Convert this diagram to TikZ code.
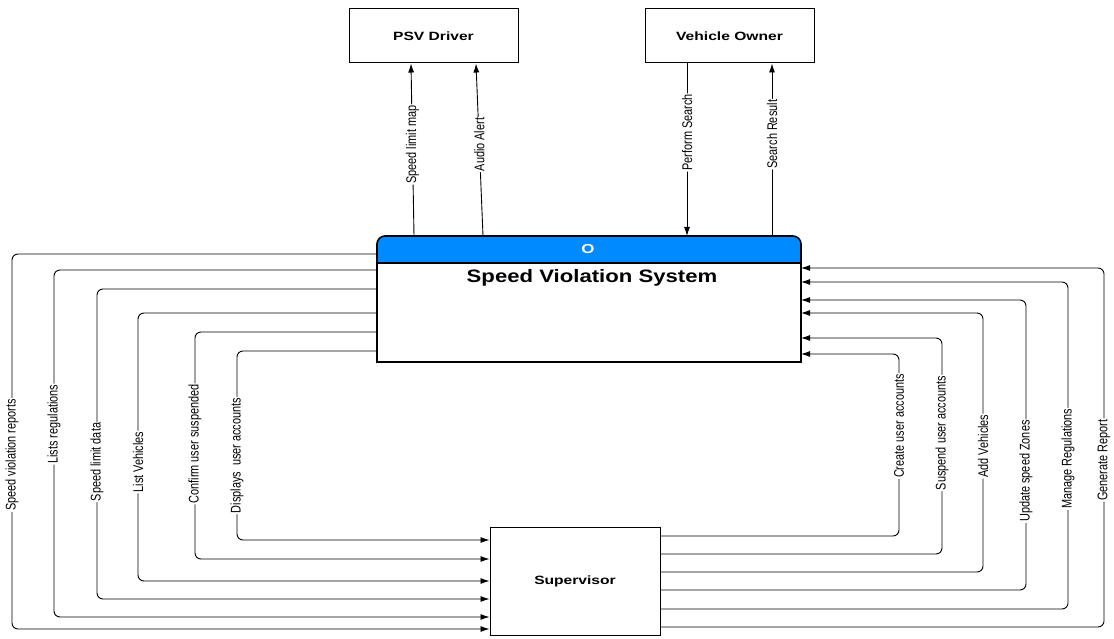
\documentclass[tikz,border=0pt]{standalone}
\usepackage{fontspec}
\setmainfont{Liberation Sans}
\newfontfamily\widefont[FakeStretch=1.3]{Liberation Sans}
\newfontfamily\titlefont[FakeStretch=1.23]{Liberation Sans}
\newfontfamily\narrowfont[FakeStretch=0.78]{Liberation Sans}
\usetikzlibrary{arrows.meta}
\definecolor{sysblue}{RGB}{0,138,255}
\begin{document}
\begin{tikzpicture}[x=1pt,y=-1pt,
  box/.style={draw, line width=1pt, rectangle, minimum width=169pt, minimum height=54pt, font=\widefont\bfseries\fontsize{12}{14}\selectfont},
  flow/.style={line width=0.9pt, -{Latex[length=9pt,width=6pt]}, rounded corners=6pt},
  lab/.style={fill=white, inner sep=1pt, rotate=90, font=\narrowfont\fontsize{14}{16}\selectfont},
]
\useasboundingbox (0,0) rectangle (1114,639);
\fill[white] (0,0) rectangle (1114,639);

% nodes
\node[box] (psv) at (433.5,36) {PSV Driver};
\node[box] (owner) at (729.5,36) {Vehicle Owner};
\node[box, minimum width=170pt, minimum height=108pt] (sup) at (575,581) {Supervisor};
\node[minimum width=424pt, minimum height=126pt, inner sep=0pt, outer sep=0pt] (sys) at (589,299) {};

% system box drawing
\fill[sysblue] (377,263) -- (377,244) arc[start angle=180,end angle=270,radius=8] -- (793,236) arc[start angle=270,end angle=360,radius=8] -- (801,263) -- cycle;
\draw[line width=1.6pt] (377,362) -- (377,244) arc[start angle=180,end angle=270,radius=8] -- (793,236) arc[start angle=270,end angle=360,radius=8] -- (801,362) -- cycle;
\draw[line width=1.6pt] (377,263) -- (801,263);
\node[text=white, font=\widefont\bfseries\fontsize{13}{15}\selectfont] (hdr) at (588,249) {O};
\node[font=\titlefont\bfseries\fontsize{18}{21}\selectfont] (title) at (592,278) {Speed Violation System};

% top connectors
\draw[flow] (414,0 |- sys.north) -- node[lab,pos=0.53]{Speed limit map} (411,0 |- psv.south);
\draw[flow] (483,0 |- sys.north) -- node[lab,pos=0.53]{Audio Alert} (476,0 |- psv.south);
\draw[flow] (687,0 |- owner.south) -- node[lab,pos=0.40]{Perform Search} (687,0 |- sys.north);
\draw[flow] (772,0 |- sys.north) -- node[lab,pos=0.59]{Search Result} (772,0 |- owner.south);

% left connectors: system -> supervisor
\draw[flow] (sys.west |- 0,254) -- (12,254) -- node[lab,pos=0.536]{Speed violation reports} (12,629) -- (sup.west |- 0,629);
\draw[flow] (sys.west |- 0,270) -- (54,270) -- node[lab,pos=0.444]{Lists regulations} (54,617) -- (sup.west |- 0,617);
\draw[flow] (sys.west |- 0,289) -- (97,289) -- node[lab,pos=0.558]{Speed limit data} (97,599) -- (sup.west |- 0,599);
\draw[flow] (sys.west |- 0,313) -- (138,313) -- node[lab,pos=0.556]{List Vehicles} (138,581) -- (sup.west |- 0,581);
\draw[flow] (sys.west |- 0,332) -- (195,332) -- node[lab,pos=0.493]{Confirm user suspended} (195,559) -- (sup.west |- 0,559);
\draw[flow] (sys.west |- 0,351) -- (237,351) -- node[lab,pos=0.553]{Displays~ user accounts} (237,540) -- (sup.west |- 0,540);

% right connectors: supervisor -> system
\draw[flow] (sup.east |- 0,536) -- (899,536) -- node[lab,pos=0.604]{Create user accounts} (899,354) -- (sys.east |- 0,354);
\draw[flow] (sup.east |- 0,554) -- (942,554) -- node[lab,pos=0.56]{Suspend user accounts} (942,338) -- (sys.east |- 0,338);
\draw[flow] (sup.east |- 0,572) -- (983,572) -- node[lab,pos=0.486]{Add Vehicles} (983,313) -- (sys.east |- 0,313);
\draw[flow] (sup.east |- 0,590) -- (1026,590) -- node[lab,pos=0.41]{Update speed Zones} (1026,300) -- (sys.east |- 0,300);
\draw[flow] (sup.east |- 0,609) -- (1068,609) -- node[lab,pos=0.459]{Manage Regulations} (1068,282) -- (sys.east |- 0,282);
\draw[flow] (sup.east |- 0,627) -- (1104,627) -- node[lab,pos=0.465]{Generate Report} (1104,268) -- (sys.east |- 0,268);
\end{tikzpicture}
\end{document}
